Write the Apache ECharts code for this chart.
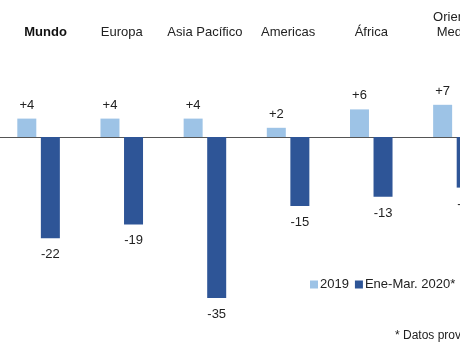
<!DOCTYPE html>
<html><head><meta charset="utf-8">
<script src="https://cdn.jsdelivr.net/npm/echarts@6/dist/echarts.min.js"></script>
<style>html,body{margin:0;padding:0;background:#fff}#c{width:460px;height:360px}</style>
</head><body><div id="c"></div>
<script>
const categories = ['Mundo', 'Europa', 'Asia Pacífico', 'Americas', 'África', 'Oriente\nMedio'];
const values2019 = [4, 4, 4, 2, 6, 7];
const values2020 = [-22, -19, -35, -15, -13, -11];
const seriesNames = ['2019', 'Ene-Mar. 2020*'];
const footnote = '* Datos provisionales';

const FONT = '"Liberation Sans", Arial, sans-serif';
const chart = echarts.init(document.getElementById('c'), null, {renderer: 'canvas'});
chart.setOption({
  backgroundColor: '#fff',
  animation: false,
  title: {
    text: footnote, left: 390, top: 325,
    textStyle: {fontFamily: FONT, fontSize: 12, fontWeight: 'normal', color: '#222'}
  },
  legend: {
    left: 305, top: 273, width: 400, orient: 'horizontal', itemWidth: 8, itemHeight: 8, itemGap: 6,
    icon: 'rect',
    textStyle: {fontFamily: FONT, fontSize: 13, color: '#222', padding: [0, 0, 0, -3]},
    data: seriesNames
  },
  grid: {left: -3, width: 499, top: 45, bottom: 39, containLabel: false, outerBoundsMode: 'none'},
  xAxis: [
    {
      type: 'category', data: categories, position: 'bottom',
      axisLine: {onZero: true, lineStyle: {color: '#555', width: 1}},
      axisTick: {show: false}, axisLabel: {show: false}
    },
    {
      type: 'category', data: categories, position: 'top',
      axisLine: {show: false, onZero: false}, axisTick: {show: false},
      axisLabel: {
        margin: 5, interval: 0, color: '#222', fontFamily: FONT, fontSize: 13, lineHeight: 15,
        formatter: function (v) { return v === 'Mundo' ? '{b|' + v + '}' : v; },
        rich: {b: {fontWeight: 'bold', fontFamily: FONT, fontSize: 13, color: '#111', padding: [0, 0, 0, 14]}}
      }
    }
  ],
  yAxis: {
    type: 'value', min: -40, max: 20, show: false,
    splitLine: {show: false}
  },
  series: [
    {
      name: seriesNames[0], type: 'bar', data: values2019, xAxisIndex: 0,
      barWidth: 19, barGap: '24%',
      itemStyle: {color: '#9DC3E6'},
      label: {
        show: true, position: 'top', distance: 7, color: '#222', fontFamily: FONT, fontSize: 13,
        formatter: function (p) { return (p.value > 0 ? '+' : '') + p.value; }
      }
    },
    {
      name: seriesNames[1], type: 'bar', data: values2020, xAxisIndex: 0,
      barWidth: 19, barGap: '24%',
      itemStyle: {color: '#2E5597'},
      label: {
        show: true, position: 'bottom', distance: 10, color: '#222', fontFamily: FONT, fontSize: 13,
        formatter: function (p) { return String(p.value); }
      }
    }
  ]
});
</script></body></html>
